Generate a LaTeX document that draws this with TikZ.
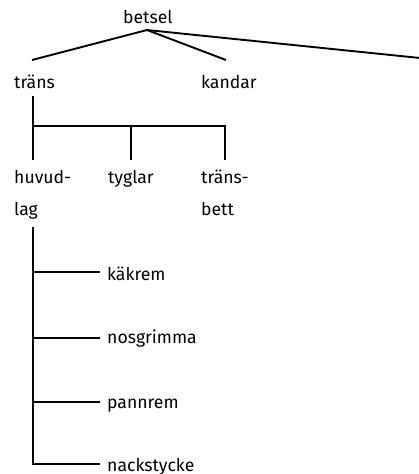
\documentclass[tikz,border=0pt]{standalone}
\usepackage{fontspec}
\setmainfont{Fira Sans}
\begin{document}
\begin{tikzpicture}[x=1pt,y=-1pt,
  lbl/.style={anchor=base west,inner sep=0pt,font=\fontsize{17.6}{21}\selectfont},
  conn/.style={line width=1.9pt}]
\useasboundingbox (0,0) rectangle (419,474);
% labels
\node[lbl] (betsel) at (123,23) {betsel};
\node[lbl] (trans) at (14,88) {träns};
\node[lbl] (kandar) at (201,88) {kandar};
\node[lbl] (huvud) at (14,183) {huvud-};
\node[lbl] (lag) at (14,215) {lag};
\node[lbl] (tyglar) at (108,183) {tyglar};
\node[lbl] (transb) at (201,183) {träns-};
\node[lbl] (bett) at (201,215) {bett};
\node[lbl] (kakrem) at (107,280) {käkrem};
\node[lbl] (nos) at (107,343) {nosgrimma};
\node[lbl] (pann) at (107,408) {pannrem};
\node[lbl] (nack) at (107,471) {nackstycke};
% connector points
\coordinate (root) at (147,30);
\coordinate (tTop) at (32,60);
\coordinate (kTop) at (226,60);
\coordinate (far) at (420,58);
\coordinate (tBot) at (33,96);
\coordinate (barL) at (33,126);
\coordinate (barM) at (131,126);
\coordinate (barR) at (225,126);
\coordinate (hTop) at (33,160);
\coordinate (tyTop) at (131,160);
\coordinate (trTop) at (225,160);
\coordinate (lagBot) at (33,227);
\coordinate (b1) at (33,272);
\coordinate (b2) at (33,338);
\coordinate (b3) at (33,402);
\coordinate (b4) at (33,464);
\coordinate (e1) at (100,272);
\coordinate (e2) at (100,338);
\coordinate (e3) at (100,402);
\coordinate (e4) at (100,464);
% connectors
\draw[conn] (root) -- (tTop);
\draw[conn] (root) -- (kTop);
\draw[conn] (root) -- (far);
\draw[conn] (tBot) -- (barL) -- (hTop);
\draw[conn] (barL) -- (barR) -- (trTop);
\draw[conn] (barM) -- (tyTop);
\draw[conn] (lagBot) -- (b4) -- (e4);
\draw[conn] (b1) -- (e1);
\draw[conn] (b2) -- (e2);
\draw[conn] (b3) -- (e3);
\end{tikzpicture}
\end{document}
